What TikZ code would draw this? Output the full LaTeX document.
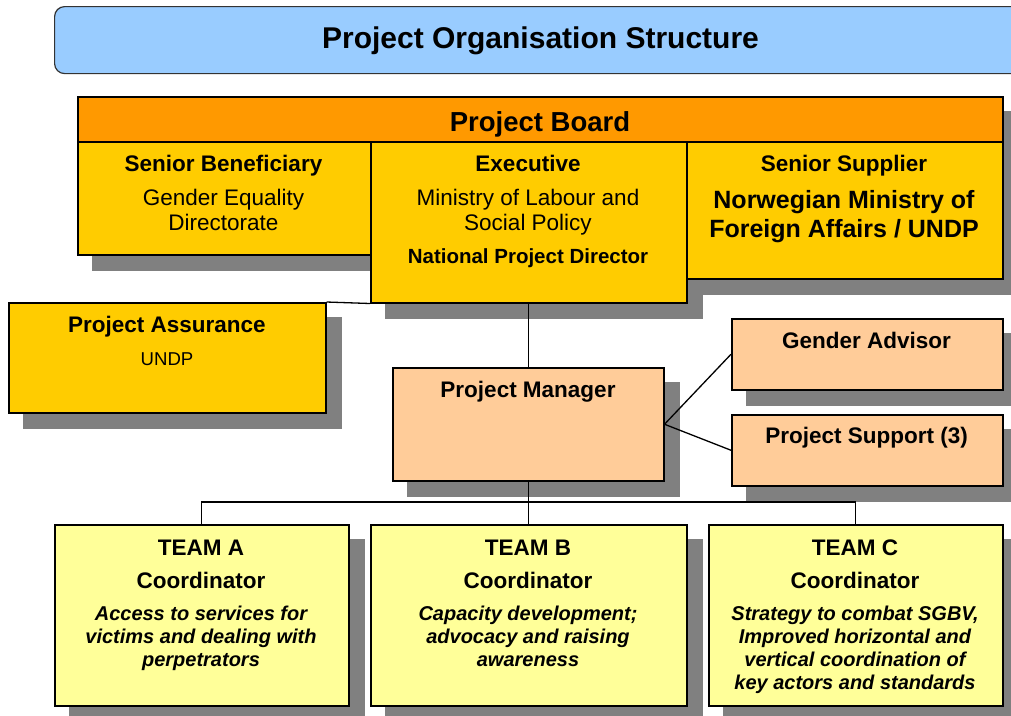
\documentclass[tikz,border=0pt]{standalone}
\usepackage{fontspec}
\setmainfont{Liberation Sans}
\definecolor{titleblue}{HTML}{99CCFF}
\definecolor{boardorange}{HTML}{FF9900}
\definecolor{boardyellow}{HTML}{FFCC00}
\definecolor{peach}{HTML}{FFCC99}
\definecolor{teamyellow}{HTML}{FFFF99}
\definecolor{shadowgrey}{HTML}{808080}
\pgfdeclarelayer{background}
\pgfsetlayers{background,main}
\begin{document}
\begin{tikzpicture}[x=1pt,y=-1pt,
  box/.style={draw=black, line width=1.5pt, rectangle, inner sep=0pt, anchor=north west},
  lbl/.style={inner sep=0pt, anchor=base, align=center},
  headb/.style={lbl, font=\bfseries\fontsize{22.5}{25}\selectfont},
  regtxt/.style={lbl, font=\fontsize{22.5}{24.5}\selectfont},
  teamtxt/.style={lbl, font=\bfseries\itshape\fontsize{20}{23}\selectfont},
  link/.style={draw=black, line width=1.3pt}]
\useasboundingbox (0,0) rectangle (1011,715);

% title
\node[draw={black!80}, line width=1.2pt, fill=titleblue, rounded corners=10pt,
      anchor=north west, minimum width=976pt, minimum height=67pt, inner sep=0pt] (ttlbox) at (54,6) {};
\node[lbl, font=\bfseries\fontsize{30}{32}\selectfont] (ttltext) at (540.5,48.3) {Project Organisation Structure};

% project board
\node[box, fill=boardorange, minimum width=925pt, minimum height=45pt] (board) at (77,96) {};
\node[box, fill=boardyellow, minimum width=293pt, minimum height=113pt] (sb) at (77,141) {};
\node[box, fill=boardyellow, minimum width=316pt, minimum height=161pt] (exec) at (370,141) {};
\node[box, fill=boardyellow, minimum width=316pt, minimum height=137pt] (ss) at (686,141) {};
\node[lbl, font=\bfseries\fontsize{27.5}{30}\selectfont] (boardtxt) at (540,131) {Project Board};

\node[headb] (sbhead) at (223.5,171) {Senior Beneficiary};
\node[regtxt] (sbbody) at (223.5,230) {Gender Equality\\Directorate};
\node[headb] (exechead) at (528,171) {Executive};
\node[regtxt] (execbody) at (528,230) {Ministry of Labour and\\Social Policy};
\node[lbl, font=\bfseries\fontsize{20.5}{23}\selectfont] (npd) at (528,263.3) {National Project Director};
\node[headb] (sshead) at (844,171) {Senior Supplier};
\node[lbl, font=\bfseries\fontsize{25}{29}\selectfont] (ssbody) at (844,237.3) {Norwegian Ministry of\\Foreign Affairs / UNDP};

% assurance
\node[box, fill=boardyellow, minimum width=317pt, minimum height=110pt] (pa) at (8,302) {};
\node[headb] (pahead) at (167,332.3) {Project Assurance};
\node[lbl, font=\fontsize{18.6}{21}\selectfont] (pabody) at (167,365) {UNDP};

% manager and staff
\node[box, fill=peach, minimum width=271pt, minimum height=113pt] (pm) at (392,367) {};
\node[headb] (pmtxt) at (528,397) {Project Manager};
\node[box, fill=peach, minimum width=271pt, minimum height=71pt] (ga) at (731,318) {};
\node[headb] (gatxt) at (866.5,348.3) {Gender Advisor};
\node[box, fill=peach, minimum width=271pt, minimum height=71pt] (ps) at (731,414) {};
\node[headb] (pstxt) at (866.5,443.3) {Project Support (3)};

% teams
\node[box, fill=teamyellow, minimum width=294pt, minimum height=181pt] (ta) at (54,524) {};
\node[box, fill=teamyellow, minimum width=316pt, minimum height=181pt] (tb) at (370,524) {};
\node[box, fill=teamyellow, minimum width=294pt, minimum height=181pt] (tc) at (708,524) {};

\node[headb] (tahead) at (201,555) {TEAM A};
\node[headb] (tacoord) at (201,588) {Coordinator};
\node[teamtxt] (tabody) at (201,666.7) {Access to services for\\victims and dealing with\\perpetrators};
\node[headb] (tbhead) at (528,555) {TEAM B};
\node[headb] (tbcoord) at (528,588) {Coordinator};
\node[teamtxt] (tbbody) at (528,666.7) {Capacity development;\\advocacy and raising\\awareness};
\node[headb] (tchead) at (855,555) {TEAM C};
\node[headb] (tccoord) at (855,588) {Coordinator};
\node[teamtxt] (tcbody) at (855,689.7) {Strategy to combat SGBV,\\Improved horizontal and\\vertical coordination of\\key actors and standards};

% shadows
\begin{pgfonlayer}{background}
\foreach \n in {board,sb,exec,ss,pa,pm,ga,ps,ta,tb,tc}
  \fill[shadowgrey] ([shift={(15,15)}]\n.north west) rectangle ([shift={(15,15)}]\n.south east);
\end{pgfonlayer}

% connectors
\coordinate (busy) at (0,502);
\draw[link] (pa.north east) -- (exec.south west);
\draw[link] (exec.south) -- (exec.south |- pm.north);
\draw[link] (pm.east) -- (ga.west);
\draw[link] (pm.east) -- (ps.west);
\draw[link] (pm.south) -- (pm.south |- tb.north);
\draw[link] (ta.north) -- (ta.north |- busy) -- (tc.north |- busy) -- (tc.north);
\end{tikzpicture}
\end{document}
